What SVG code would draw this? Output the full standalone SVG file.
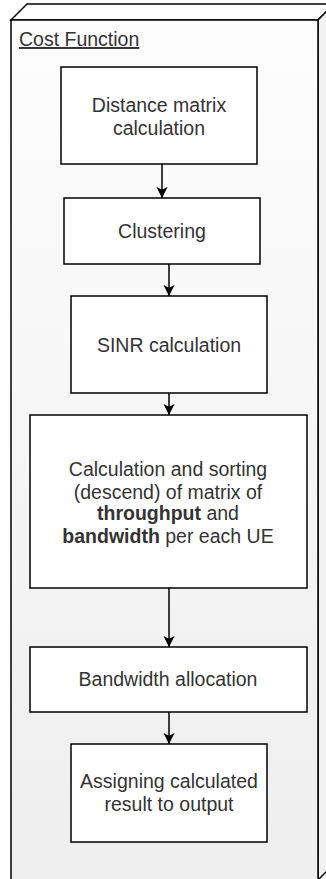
<svg xmlns="http://www.w3.org/2000/svg" width="326" height="879" viewBox="0 0 326 879">
  <style>
    .frame { stroke: #000; stroke-width: 1.5; }
    .box { fill: #fff; stroke: #000; stroke-width: 1.5; }
    .lbl { font-family: "Liberation Sans", Arial, sans-serif; font-size: 19.5px; fill: #333; text-anchor: middle; }
    .title { font-family: "Liberation Sans", Arial, sans-serif; font-size: 19.5px; fill: #333; text-decoration: underline; }
    .b { font-weight: bold; }
    .edge { stroke: #000; stroke-width: 1.5; fill: none; marker-end: url(#arrow); }
  </style>
  <defs>
    <linearGradient id="faceFill" x1="0" y1="0" x2="0" y2="1">
      <stop offset="0" stop-color="#fdfdfd"/>
      <stop offset="1" stop-color="#eeeeee"/>
    </linearGradient>
    <marker id="arrow" viewBox="0 0 12 12" refX="12" refY="6" markerWidth="11" markerHeight="12" markerUnits="userSpaceOnUse" orient="auto">
      <path d="M0,0 L12,6 L0,12 L3,6 z" fill="#000"/>
    </marker>
  </defs>

  <!-- 3D frame of the Cost Function component -->
  <g id="cost-function">
    <path class="frame" fill="#fff" d="M11,20 L27,4 L334,4 L318,20 z"/>
    <path class="frame" fill="#f2f2f2" d="M318,20 L334,4 L334,864 L318,880 z"/>
    <rect class="frame" x="11" y="20" width="307" height="860" fill="url(#faceFill)"/>
    <text class="title" x="19" y="46">Cost Function</text>
  </g>

  <g id="distance-matrix">
    <rect class="box" x="61" y="67" width="196" height="97"/>
    <text class="lbl" x="159" y="112">Distance matrix</text>
    <text class="lbl" x="159" y="135">calculation</text>
  </g>

  <g id="clustering">
    <rect class="box" x="64" y="198" width="196" height="66"/>
    <text class="lbl" x="162" y="238">Clustering</text>
  </g>

  <g id="sinr">
    <rect class="box" x="71" y="296" width="196" height="97"/>
    <text class="lbl" x="169" y="352">SINR calculation</text>
  </g>

  <g id="sorting">
    <rect class="box" x="30" y="415" width="277" height="173"/>
    <text class="lbl" x="168" y="476">Calculation and sorting</text>
    <text class="lbl" x="168" y="499">(descend) of matrix of</text>
    <text class="lbl" x="168" y="520"><tspan class="b">throughput</tspan> and</text>
    <text class="lbl" x="168" y="543"><tspan class="b">bandwidth</tspan> per each UE</text>
  </g>

  <g id="bandwidth-allocation">
    <rect class="box" x="30" y="647" width="277" height="65"/>
    <text class="lbl" x="168" y="686">Bandwidth allocation</text>
  </g>

  <g id="assign-output">
    <rect class="box" x="71" y="744" width="196" height="98"/>
    <text class="lbl" x="169" y="788">Assigning calculated</text>
    <text class="lbl" x="169" y="811">result to output</text>
  </g>

  <g id="connectors">
    <line class="edge" x1="162" y1="164" x2="162" y2="198"/>
    <line class="edge" x1="169" y1="264" x2="169" y2="296"/>
    <line class="edge" x1="169" y1="393" x2="169" y2="415"/>
    <line class="edge" x1="169" y1="588" x2="169" y2="647"/>
    <line class="edge" x1="169" y1="712" x2="169" y2="744"/>
  </g>
</svg>
